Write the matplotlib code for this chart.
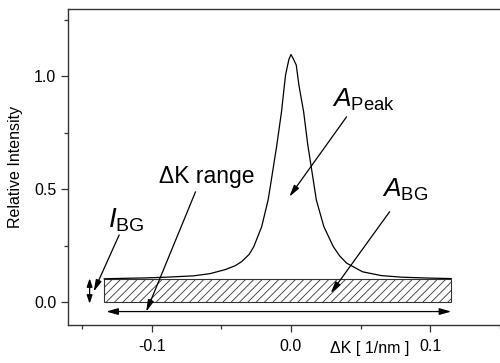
import matplotlib
matplotlib.use("Agg")
import matplotlib.pyplot as plt
from matplotlib.patches import Rectangle

plt.rcParams["font.family"] = ["Liberation Sans", "DejaVu Sans"]
plt.rcParams["mathtext.fontset"] = "custom"
plt.rcParams["mathtext.rm"] = "Liberation Sans"
plt.rcParams["mathtext.it"] = "Liberation Sans:italic"
plt.rcParams["axes.unicode_minus"] = False
plt.rcParams["hatch.linewidth"] = 0.6

# measured profile across the diffraction peak
dk = [-0.134, -0.120, -0.104, -0.090, -0.070, -0.058, -0.047, -0.040,
      -0.0354, -0.030, -0.0267, -0.021, -0.0164, -0.0141, -0.0103, -0.0068,
      -0.0039, -0.0015, 0.0, 0.0015, 0.0038, 0.0057, 0.0091, 0.0120,
      0.0160, 0.0182, 0.0236, 0.0304, 0.035, 0.040, 0.0514, 0.065,
      0.080, 0.100, 0.115]
intensity = [0.104, 0.106, 0.108, 0.111, 0.117, 0.127, 0.145, 0.162,
             0.180, 0.212, 0.246, 0.335, 0.453, 0.541, 0.690, 0.843,
             1.006, 1.075, 1.097, 1.080, 1.050, 0.961, 0.843, 0.700,
             0.541, 0.453, 0.335, 0.246, 0.205, 0.173, 0.135, 0.118,
             0.111, 0.107, 0.105]

bg_level = 0.102
dk_min, dk_max = -0.134, 0.115

fig = plt.figure(figsize=(5.0, 3.63), dpi=100)
ax = fig.add_axes([0.136, 0.105, 0.864, 0.870])

ax.plot(dk, intensity, color="black", lw=0.9)

# background area under the peak
ax.add_patch(Rectangle((dk_min, 0.0), dk_max - dk_min, bg_level,
                       facecolor="white", edgecolor="#333333",
                       hatch="////", lw=0.8))

# integration range
ax.annotate("", xy=(dk_max, -0.041), xytext=(dk_min + 0.0015, -0.041),
            arrowprops=dict(arrowstyle="<|-|>,head_length=0.7,head_width=0.2",
                            color="black", lw=0.9, shrinkA=0, shrinkB=0))
# background height
ax.annotate("", xy=(-0.1445, 0.106), xytext=(-0.1445, -0.006),
            arrowprops=dict(arrowstyle="<|-|>,head_length=0.5,head_width=0.17",
                            color="black", lw=0.9, shrinkA=0, shrinkB=0))

pointer = dict(arrowstyle="-|>,head_length=0.7,head_width=0.18",
               color="black", lw=0.9, shrinkA=0, shrinkB=0)
ax.annotate("", xy=(-0.1416, 0.047), xytext=(-0.1233, 0.298), arrowprops=pointer)
ax.annotate("", xy=(-0.1039, -0.042), xytext=(-0.0685, 0.489), arrowprops=pointer)
ax.annotate("", xy=(-0.0012, 0.467), xytext=(0.0399, 0.821), arrowprops=pointer)
ax.annotate("", xy=(0.0285, 0.040), xytext=(0.0708, 0.401), arrowprops=pointer)

ax.text(-0.1315, 0.329, r"$I_{\mathrm{BG}}$", fontsize=20)
ax.text(-0.095, 0.527, "\u0394K range", fontsize=16.5)
ax.text(0.0295, 0.865, r"$A_{\mathrm{Peak}}$", fontsize=19)
ax.text(0.065, 0.467, r"$A_{\mathrm{BG}}$", fontsize=19)

ax.set_xlim(-0.160, 0.1358)
ax.set_ylim(-0.100, 1.298)
ax.set_xticks([-0.1, 0.0, 0.1])
ax.set_xticks([-0.15, -0.05, 0.05, 0.15], minor=True)
ax.set_yticks([0.0, 0.5, 1.0])
ax.set_yticks([0.25, 0.75, 1.25], minor=True)
ax.tick_params(which="major", length=5, width=0.9, labelsize=11.5, color="#333333")
ax.tick_params(which="minor", length=3, width=0.9, color="#333333")
ax.tick_params(axis="x", pad=5)
for side in ["left", "bottom", "top"]:
    ax.spines[side].set_color("#333333")
    ax.spines[side].set_linewidth(1.0)
ax.spines["right"].set_visible(False)

ax.set_ylabel("Relative Intensity", fontsize=11.5)
ax.yaxis.set_label_coords(-0.105, 0.5)
fig.text(0.66, 0.028, "\u0394K [ 1/nm ]", fontsize=11.5, va="baseline")

fig.savefig("out.png", dpi=100)
